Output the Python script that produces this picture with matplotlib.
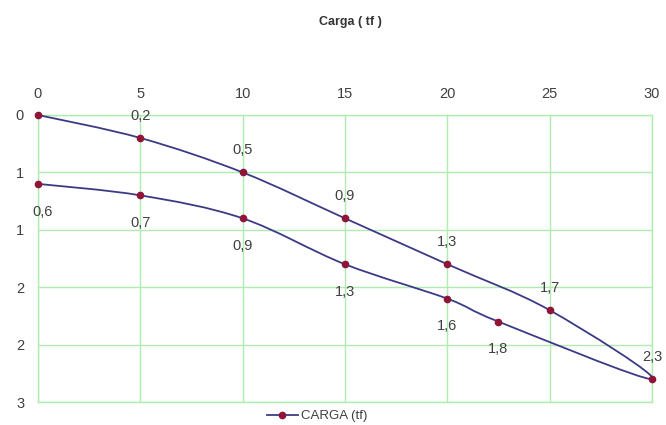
import matplotlib
matplotlib.use("Agg")
import matplotlib.pyplot as plt
from matplotlib.path import Path
from matplotlib.patches import PathPatch
from matplotlib.lines import Line2D

plt.rcParams["font.family"] = ["Liberation Sans", "DejaVu Sans"]

# ---- data ----
carga = [0, 5, 10, 15, 20, 25, 30, 22.5, 20, 15, 10, 5, 0]
recalque = [0, 0.2, 0.5, 0.9, 1.3, 1.7, 2.3, 1.8, 1.6, 1.3, 0.9, 0.7, 0.6]
x_ticks = [0, 5, 10, 15, 20, 25, 30]
y_ticks = [0, 0.5, 1.0, 1.5, 2.0, 2.5]
y_tick_labels = ["0", "1", "1", "2", "2", "3"]
series_name = "CARGA (tf)"
title = "Carga ( tf )"

LINE = "#3b3b85"
MARK = "#8e1538"
GRID = "#b0ecb0"
TXT = "#404040"

fig = plt.figure(figsize=(6.66, 4.25), dpi=100)
W, H = 666, 425
left, right, top, bottom = 38, 652, 115, 402
ax = fig.add_axes([left / W, 1 - bottom / H, (right - left) / W, (bottom - top) / H])

ax.set_xlim(0, 30)
ax.set_ylim(2.5, 0)
ax.xaxis.tick_top()
ax.set_xticks(x_ticks)
ax.set_xticklabels([str(v) for v in x_ticks])
ax.set_yticks(y_ticks)
ax.set_yticklabels(y_tick_labels)
ax.tick_params(length=0, labelsize=10.5, colors=TXT, pad=10)
ax.tick_params(axis="x", pad=10)
ax.grid(True, color=GRID, linewidth=1.0)
ax.set_axisbelow(True)
for s in ax.spines.values():
    s.set_color(GRID)
    s.set_linewidth(1.0)

# smooth (Excel-like) curve through the points, built as cubic Bezier path
pts = list(zip(carga, recalque))
n = len(pts)
verts = [pts[0]]
codes = [Path.MOVETO]
for i in range(n - 1):
    p0 = pts[i - 1] if i > 0 else pts[i]
    p1 = pts[i]
    p2 = pts[i + 1]
    p3 = pts[i + 2] if i + 2 < n else pts[i + 1]
    c1 = (p1[0] + (p2[0] - p0[0]) / 6, p1[1] + (p2[1] - p0[1]) / 6)
    c2 = (p2[0] - (p3[0] - p1[0]) / 6, p2[1] - (p3[1] - p1[1]) / 6)
    verts += [c1, c2, p2]
    codes += [Path.CURVE4] * 3
ax.add_patch(PathPatch(Path(verts, codes), facecolor="none", edgecolor=LINE, linewidth=1.3, zorder=3))
ax.plot(carga, recalque, linestyle="none", marker="o", markersize=4.5, color=MARK, zorder=4, clip_on=False)

# data labels: loading branch above, unloading branch below
peak = recalque.index(max(recalque))
for i, (xv, yv) in enumerate(pts):
    if i == 0:
        continue
    lab = f"{yv:.1f}".replace(".", ",")
    if i <= peak:
        off = (0, 16)
    else:
        off = (3 if xv == 0 else 0, -20)
    ax.annotate(lab, (xv, yv), xytext=off, textcoords="offset points",
                ha="center", va="center", fontsize=10.5, color=TXT, zorder=5,
                annotation_clip=False)

fig.text(350 / W, 1 - 22 / H, title, ha="center", va="center", fontsize=9,
         fontweight="bold", color="#333333")

handle = Line2D([], [], color=LINE, linewidth=1.3, marker="o", markersize=4.5,
                markerfacecolor=MARK, markeredgecolor=MARK)
fig.legend([handle], [series_name], loc="center", bbox_to_anchor=(317 / W, 1 - 416 / H),
           frameon=False, fontsize=9.5, handlelength=2.4, handletextpad=0.2,
           labelcolor=TXT, borderpad=0)

fig.savefig("out.png", dpi=100, facecolor="white")
